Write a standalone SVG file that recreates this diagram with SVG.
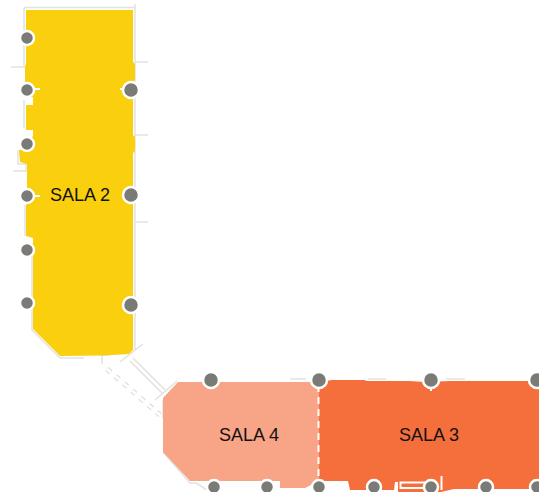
<svg xmlns="http://www.w3.org/2000/svg" width="539" height="492" viewBox="0 0 539 492">
<style>
.pin{fill:#7a7a76;stroke:#fff;stroke-width:2.5}
.wall{fill:none;stroke:#e2e2e0;stroke-width:1.5}
.tick{fill:none;stroke:#fff;stroke-width:2}
.lbl{font-family:"Liberation Sans",Arial,sans-serif;font-size:18px;fill:#111;text-anchor:middle}
</style>
<rect width="539" height="492" fill="#fff"/>
<g id="walls">
<path class="wall" d="M24 7.500H135M135 4V350M135 62H148M135 135H148M135 222H148M11 67H25M24 8V66M24 100V128M13 171H26V164H18V150M25 205V236M32 243V330L60 358H84"/>
<path class="wall" d="M102 355H110M102 355V364M120 362L143 344M133 358L165 390M130 361L162 393M155 400L177 381M163 400V418"/>
<path d="M107 369L160 415" fill="none" stroke="#d8d8d6" stroke-width="5" stroke-dasharray="5 6"/>
<path d="M107 369L160 415" fill="none" stroke="#fff" stroke-width="3" stroke-dasharray="5 6"/>
<path class="wall" d="M163 452L190 483H196L207 490M290 379H306M368 379H386M446 379H465"/>
</g>
<g id="sala-2">
<path d="M26 10H133V62L135 64V80L133 82V135L135 137V151L133 153V350L129 354L103 355.500L60 356L33 329V238L26 236V205L27 190V164L20 162L19 150L24 149L33 136V130H26V105H33V97H25V66L26 64Z" fill="#facf0d"/>
<text class="lbl" x="80" y="201">SALA 2</text>
</g>
<g id="sala-4">
<path d="M178 382H319V481L305 488H280V481H190L163 452V398Z" fill="#f7a487"/>
<text class="lbl" x="249" y="441">SALA 4</text>
</g>
<g id="sala-3">
<path d="M319 382L332 380H364L367 381H409L425 382L450 381H539V489H454L441 492H398V482H395L394 490H350L348 481H319Z" fill="#f46f3b"/>
<path d="M318.500 385V481" stroke="#fff" stroke-width="2" stroke-dasharray="7 5" fill="none"/>
<path class="tick" d="M400.500 482.500H425V488H400.500ZM441.500 476V490"/>
<text class="lbl" x="429" y="441">SALA 3</text>
</g>
<g id="connectors">
<path class="tick" d="M27 89H40M27 196H40M120 89H131M431 380V391"/>
</g>
<g id="pins">
<circle class="pin" cx="27" cy="38" r="7"/>
<circle class="pin" cx="27" cy="90" r="7"/>
<circle class="pin" cx="27" cy="144" r="7"/>
<circle class="pin" cx="27" cy="196" r="7"/>
<circle class="pin" cx="27" cy="250" r="7"/>
<circle class="pin" cx="27" cy="303" r="7"/>
<circle class="pin" cx="131" cy="90" r="8"/>
<circle class="pin" cx="131" cy="195" r="8"/>
<circle class="pin" cx="131" cy="305" r="8"/>
<circle class="pin" cx="211" cy="380" r="8"/>
<circle class="pin" cx="319" cy="380" r="8"/>
<circle class="pin" cx="431" cy="380" r="8"/>
<circle class="pin" cx="537" cy="380" r="8"/>
<circle class="pin" cx="214" cy="487" r="7"/>
<circle class="pin" cx="267" cy="487" r="7"/>
<circle class="pin" cx="319" cy="487" r="7"/>
<circle class="pin" cx="374" cy="487" r="7"/>
<circle class="pin" cx="431" cy="487" r="7"/>
<circle class="pin" cx="486" cy="487" r="7"/>
<circle class="pin" cx="537" cy="487" r="7"/>
</g>
</svg>
